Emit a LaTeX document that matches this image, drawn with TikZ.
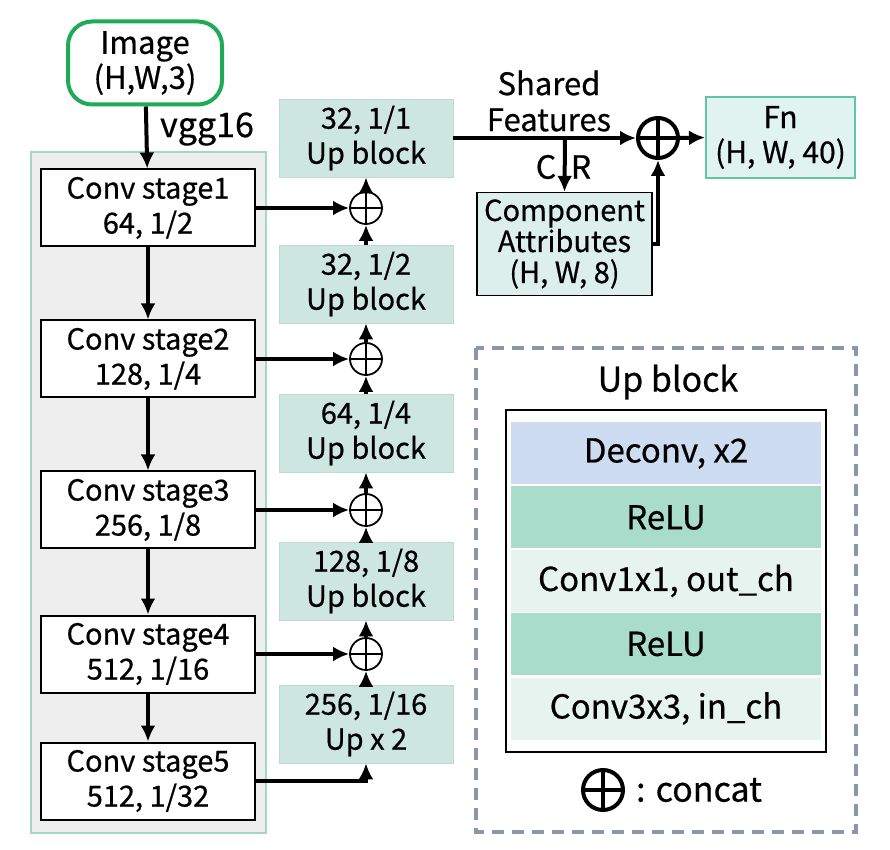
\documentclass[tikz,border=0pt]{standalone}
\usepackage{fontspec}
\setmainfont{Noto Sans CJK SC}[FakeBold=0.6]
\usetikzlibrary{arrows.meta,positioning}
\definecolor{imggreen}{HTML}{1FAA58}
\definecolor{vggfill}{HTML}{EEEEEE}
\definecolor{vggline}{HTML}{A3D8C8}
\definecolor{upfill}{HTML}{CDE7E0}
\definecolor{attfill}{HTML}{DCEFEA}
\definecolor{fnfill}{HTML}{E0F3EE}
\definecolor{fnline}{HTML}{5CC6A6}
\definecolor{legline}{HTML}{8A97AB}
\definecolor{deconvfill}{HTML}{CDDCF0}
\definecolor{relufill}{HTML}{AADCCB}
\definecolor{convfill}{HTML}{E6F3EF}
\newcommand{\fs}{\fontsize{14.5}{17.5}\selectfont}
\newcommand{\fl}{\fontsize{16.5}{19}\selectfont}
\tikzset{
  stagebox/.style={draw=black, line width=1pt, fill=white, minimum width=107pt,
    minimum height=38.5pt, align=center, font=\fs},
  upbox/.style={draw=upfill!85!gray, line width=0.4pt, fill=upfill, minimum width=87pt,
    minimum height=32pt, align=center, font=\fs},
  cat/.style={circle, draw, line width=0.9pt, minimum size=16pt, inner sep=0pt},
  flow/.style={->, line width=2pt},
  legrow/.style={minimum width=155pt, minimum height=31pt, inner sep=0pt, font=\fl},
}
\newcommand{\catcross}[1]{\draw[line width=0.9pt] (#1.north) -- (#1.south) (#1.west) -- (#1.east);}
\begin{document}
\begin{tikzpicture}[x=0.5pt, y=-0.5pt, >={Latex[length=8pt,width=7.5pt]}]
  \useasboundingbox (0,0) rectangle (890,850);
  \def\sx{148}
  \def\ux{366}

  \node[draw=vggline, line width=1pt, fill=vggfill, minimum width=117.5pt,
    minimum height=340.5pt] (vgg) at (148.5,492.5) {};

  \node[draw=imggreen, line width=2pt, rounded corners=12pt, minimum width=77pt,
    minimum height=41.5pt, align=center, font=\fontsize{15.5}{17.5}\selectfont] (img) at (145,63) {Image\\(H,W,3)};
  \node[font=\fontsize{17}{19}\selectfont] (vgglabel) at (207,129) {vgg16};

  \node[stagebox] (s1) at (\sx,208) {Conv stage1\\64, 1/2};
  \node[stagebox] (s2) at (\sx,359) {Conv stage2\\128, 1/4};
  \node[stagebox] (s3) at (\sx,510) {Conv stage3\\256, 1/8};
  \node[stagebox] (s4) at (\sx,654) {Conv stage4\\512, 1/16};
  \node[stagebox] (s5) at (\sx,781) {Conv stage5\\512, 1/32};

  \node[upbox] (u1) at (\ux,138) {32, 1/1\\Up block};
  \node[upbox] (u2) at (\ux,284) {32, 1/2\\Up block};
  \node[upbox] (u3) at (\ux,433) {64, 1/4\\Up block};
  \node[upbox] (u4) at (\ux,581) {128, 1/8\\Up block};
  \node[upbox] (u5) at (\ux,724) {256, 1/16\\Up x 2};

  \node[cat] (c1) at (\ux,208) {};
  \node[cat] (c2) at (\ux,359) {};
  \node[cat] (c3) at (\ux,510) {};
  \node[cat] (c4) at (\ux,654) {};
  \catcross{c1}
  \catcross{c2}
  \catcross{c3}
  \catcross{c4}

  \node[cat, minimum size=20pt, line width=2pt] (top) at (658,138) {};
  \draw[line width=2pt] (top.north) -- (top.south) (top.west) -- (top.east);

  \node[align=center, font=\fontsize{15.5}{18}\selectfont] (shared) at (549,101) {Shared\\Features};
  \coordinate (split) at (565,138);
  \node[draw=black, line width=0.8pt, fill=attfill, minimum width=87.5pt,
    minimum height=49pt, align=center, font=\fontsize{14.5}{15.5}\selectfont] (att) at (564.5,244)
    {Component\\Attributes\\(H, W, 8)};
  \node[font=\fontsize{16}{18}\selectfont] (C) at (546,167) {C};
  \node[font=\fontsize{16}{18}\selectfont] (R) at (581,167) {R};
  \node[draw=fnline, line width=1pt, fill=fnfill, minimum width=74.5pt,
    minimum height=40.5pt, align=center, font=\fontsize{15}{17.5}\selectfont] (fn) at (780.5,137.5) {Fn\\(H, W, 40)};

  \draw[flow] (img) -- (s1);
  \draw[flow] (s1) -- (s2);
  \draw[flow] (s2) -- (s3);
  \draw[flow] (s3) -- (s4);
  \draw[flow] (s4) -- (s5);

  \draw[flow] (s1.east) -- (c1.west);
  \draw[flow] (s2.east) -- (c2.west);
  \draw[flow] (s3.east) -- (c3.west);
  \draw[flow] (s4.east) -- (c4.west);
  \draw[flow] (s5.east) -| (u5.south);

  \draw[flow] (u5.north) -- (c4.south);
  \draw[flow] (c4.north) -- (u4.south);
  \draw[flow] (u4.north) -- (c3.south);
  \draw[flow] (c3.north) -- (u3.south);
  \draw[flow] (u3.north) -- (c2.south);
  \draw[flow] (c2.north) -- (u2.south);
  \draw[flow] (u2.north) -- (c1.south);
  \draw[flow] (c1.north) -- (u1.south);

  \draw[flow] (u1.east) -- (top.west);
  \draw[flow] (split) -- (att.north);
  \draw[flow] (att.east) -| (top.south);
  \draw[flow] (top.east) -- (fn.west);

  \draw[legline, line width=1.6pt, dash pattern=on 6pt off 4pt] (476,348) rectangle (856,832);
  \node[font=\fontsize{17}{19}\selectfont] (legtitle) at (668,382) {Up block};
  \node[draw=black, line width=0.6pt, minimum width=160pt, minimum height=171pt,
    inner sep=0pt] (upframe) at (666,581) {};
  \node[legrow, fill=deconvfill] (deconv) at (666,453.5) {Deconv, x2};
  \node[legrow, fill=relufill] (relu1) at (666,517.5) {ReLU};
  \node[legrow, fill=convfill] (conv1) at (666,581) {Conv1x1, out\_ch};
  \node[legrow, fill=relufill] (relu2) at (666,644) {ReLU};
  \node[legrow, fill=convfill] (conv3) at (666,708.5) {Conv3x3, in\_ch};

  \node[cat, minimum size=20pt, line width=2pt] (legcat) at (603,790) {};
  \draw[line width=2pt] (legcat.north) -- (legcat.south) (legcat.west) -- (legcat.east);
  \node[font=\fontsize{17}{19}\selectfont, anchor=west] (legtext) at (629,790) {: concat};
\end{tikzpicture}
\end{document}
